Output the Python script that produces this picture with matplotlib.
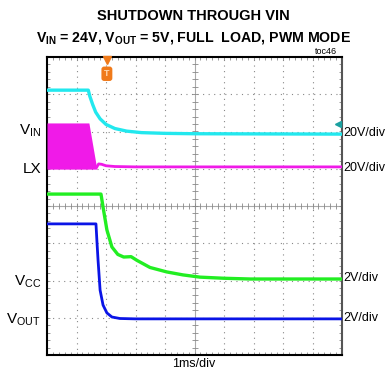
import numpy as np
import matplotlib
matplotlib.use("Agg")
import matplotlib.pyplot as plt

plt.rcParams['font.family'] = ['Liberation Sans', 'DejaVu Sans']
plt.rcParams['mathtext.default'] = 'regular'

# screen data: time in ms (1 ms/div), level in divisions (0..8 from bottom)
vin_t = [0, 1.40, 1.45, 1.55, 1.65, 1.80, 2.00, 2.30, 2.70, 3.20, 4.0, 5.0, 10.0]
vin_y = [7.11, 7.11, 6.95, 6.72, 6.52, 6.34, 6.19, 6.08, 6.01, 5.97, 5.95, 5.94, 5.93]

lx_band_t = [0, 1.42, 1.69]
lx_band_hi = [6.23, 6.23, 4.99]
lx_band_lo = [4.99, 4.99, 4.99]
lx_t = [1.69, 1.75, 1.85, 2.0, 2.3, 3.0, 10.0]
lx_y = [5.05, 5.13, 5.12, 5.08, 5.06, 5.05, 5.05]

vcc_t = [0, 1.83, 1.90, 2.03, 2.20, 2.40, 2.60, 2.85, 3.05, 3.49, 4.06, 4.61, 5.19, 6.0, 6.9, 8.0, 10.0]
vcc_y = [4.32, 4.32, 3.97, 3.36, 2.90, 2.70, 2.63, 2.64, 2.54, 2.35, 2.23, 2.15, 2.09, 2.06, 2.04, 2.04, 2.04]

vout_t = [0, 1.66, 1.69, 1.73, 1.80, 1.90, 2.03, 2.20, 2.47, 3.0, 10.0]
vout_y = [3.52, 3.52, 3.09, 2.55, 1.74, 1.34, 1.13, 1.02, 0.98, 0.97, 0.97]

left_labels = ['$V_{IN}$', 'LX', '$V_{CC}$', '$V_{OUT}$']
left_label_y = [131, 169, 282, 320]
right_labels = ['20V/div', '20V/div', '2V/div', '2V/div']
right_label_y = [133, 168, 278, 318]

W, H = 387, 375
fig = plt.figure(figsize=(W / 100, H / 100), dpi=100)
ax = fig.add_axes([47 / W, 1 - 355 / H, 295 / W, 298 / H])
ax.set_xlim(0, 10)
ax.set_ylim(0, 8)

# graticule
for x in range(1, 10):
    if x != 5:
        ax.axvline(x, color='#888888', lw=0.8, ls=(0, (1, 4)), zorder=1)
for y in range(1, 8):
    if y != 4:
        ax.axhline(y, color='#888888', lw=0.8, ls=(0, (1, 4)), zorder=1)
ax.axvline(5, color='#aaaaaa', lw=0.8, zorder=1)
ax.axhline(4, color='#aaaaaa', lw=0.8, zorder=1)
mx = np.arange(0.2, 10, 0.2)
my = np.arange(0.2, 8, 0.2)
ax.plot(mx, np.full_like(mx, 4), ls='none', marker='|', ms=4, mew=0.6, color='#888888', zorder=1)
ax.plot(np.full_like(my, 5), my, ls='none', marker='_', ms=4, mew=0.6, color='#888888', zorder=1)

ax.set_xticks([])
ax.set_yticks([])
ax.set_xticks(mx, minor=True)
ax.set_yticks(my, minor=True)
ax.tick_params(which='minor', direction='in', length=2.5, width=0.6, color='#888888',
               top=True, bottom=True, left=True, right=True,
               labelbottom=False, labelleft=False)
for s in ax.spines.values():
    s.set_linewidth(1.5)
    s.set_color('black')
ax.spines['right'].set_color('#555555')

# traces
ax.fill_between(lx_band_t, lx_band_lo, lx_band_hi, color='#f01ae8', lw=0, zorder=3)
ax.plot(lx_t, lx_y, color='#f01ae8', lw=2.0, zorder=3)
ax.plot(vin_t, vin_y, color='#22e8ee', lw=2.4, zorder=3)
ax.plot(vcc_t, vcc_y, color='#22ee22', lw=2.4, zorder=3)
ax.plot(vout_t, vout_y, color='#0a14e6', lw=2.0, zorder=4)

# trigger marker and channel marker
ax.plot([2.03], [7.93], marker='v', ms=6, color='#f07a1a', clip_on=False, zorder=5)
ax.text(2.03, 7.55, 'T', ha='center', va='center', fontsize=6.5, fontweight='bold', color='#ffd9b0',
        bbox=dict(boxstyle='round,pad=0.3', fc='#f07a1a', ec='none'), zorder=5)
ax.plot([9.85], [6.21], marker='<', ms=4, color='#1aa0a0', zorder=5)

# texts
fig.text(193.5 / W, 1 - 16 / H, 'SHUTDOWN THROUGH VIN', ha='center', va='center',
         fontsize=10.5, fontweight='bold')
fig.text(193.5 / W, 1 - 38 / H, '$V_{IN}$ = 24V, $V_{OUT}$ = 5V, FULL  LOAD, PWM MODE',
         ha='center', va='center', fontsize=10.2, fontweight='bold')
fig.text(337 / W, 1 - 52 / H, 'toc46', ha='right', va='center', fontsize=6.5)
for lab, py in zip(left_labels, left_label_y):
    fig.text(41 / W, 1 - py / H, lab, ha='right', va='center', fontsize=11)
for lab, py in zip(right_labels, right_label_y):
    fig.text(343 / W, 1 - py / H, lab, ha='left', va='center', fontsize=9)
fig.text(193.5 / W, 1 - 364 / H, '1ms/div', ha='center', va='center', fontsize=9)

fig.savefig('out.png', dpi=100)
